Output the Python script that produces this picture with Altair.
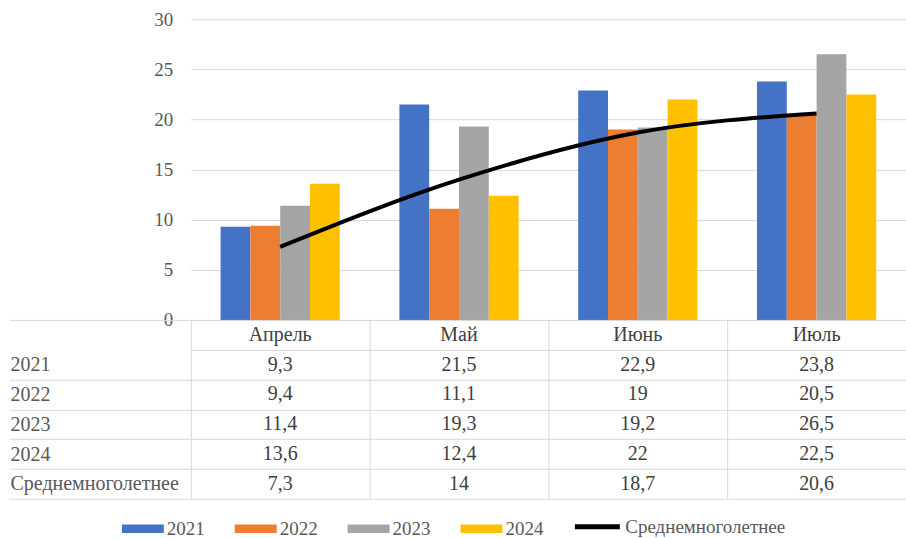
import altair as alt
import pandas as pd

# Monthly values by year, plus the long-term mean
months = ["Апрель", "Май", "Июнь", "Июль"]
series_names = ["2021", "2022", "2023", "2024", "Среднемноголетнее"]
v2021 = [9.3, 21.5, 22.9, 23.8]
v2022 = [9.4, 11.1, 19, 20.5]
v2023 = [11.4, 19.3, 19.2, 26.5]
v2024 = [13.6, 12.4, 22, 22.5]
mean_years = [7.3, 14, 18.7, 20.6]
y_ticks = [0, 5, 10, 15, 20, 25, 30]

year_colors = ["#4472C4", "#ED7D31", "#A5A5A5", "#FFC000"]
FONT = "Liberation Serif, Times New Roman, DejaVu Serif, Liberation Sans, serif"
TEXT = "#595959"
CELL = "#404040"
GRID = "#d9d9d9"
FS = 19
FS_TABLE = 20

YEARS = series_names[:4]
MEAN = series_names[-1]
HEADER = "Месяц"  # key of the header row of the data table (label hidden)

series_values = dict(zip(series_names, [v2021, v2022, v2023, v2024, mean_years]))
long = pd.DataFrame(
    [{"month": m, "series": s, "value": vals[i]}
     for s, vals in series_values.items() for i, m in enumerate(months)]
)
bars_df = long[long.series != MEAN]
line_df = long[long.series == MEAN]


def fmt(v):
    return ("%g" % v).replace(".", ",")


table_rows = [{"row": HEADER, "month": m, "text": m} for m in months]
table_rows += [{"row": r.series, "month": r.month, "text": fmt(r.value)} for r in long.itertuples()]
table_df = pd.DataFrame(table_rows)
row_order = [HEADER] + series_names

x_top = alt.X("month:N", sort=months,
              scale=alt.Scale(paddingInner=1 / 3, paddingOuter=1 / 6), axis=None)

legend_style = dict(title=None, orient="none", direction="horizontal", labelLimit=400,
                    labelFont=FONT, labelFontSize=FS, labelColor=TEXT, labelOffset=3)

bars = alt.Chart(bars_df).mark_bar().encode(
    x=x_top,
    xOffset=alt.XOffset("series:N", sort=YEARS),
    y=alt.Y("value:Q", scale=alt.Scale(domain=[0, 30], nice=False),
            axis=alt.Axis(values=y_ticks, title=None, domain=False, ticks=False,
                          grid=True, gridColor=GRID, labelPadding=18,
                          labelFont=FONT, labelFontSize=FS, labelColor=TEXT)),
    color=alt.Color(
        "series:N", scale=alt.Scale(domain=YEARS, range=year_colors),
        legend=alt.Legend(legendX=-69, legendY=489, columns=4, columnPadding=30,
                          symbolType="M-1,-0.2H1V0.2H-1Z", symbolSize=1764,
                          symbolStrokeWidth=0, **legend_style),
    ),
)

line = alt.Chart(line_df).mark_line(strokeWidth=4, interpolate="monotone").encode(
    x=x_top,
    y=alt.Y("value:Q"),
    stroke=alt.Stroke(
        "series:N", scale=alt.Scale(domain=[MEAN], range=["#000000"]),
        legend=alt.Legend(legendX=382, legendY=483, symbolType="stroke",
                          symbolSize=2025, symbolStrokeWidth=5, **legend_style),
    ),
)

top = alt.layer(bars, line).resolve_legend(color="independent", stroke="independent").properties(width=716, height=301)

x_tab = alt.X("month:N", sort=months,
              scale=alt.Scale(paddingInner=0, paddingOuter=0),
              axis=alt.Axis(title=None, labels=False, ticks=False, domain=False,
                            grid=True, gridColor=GRID, tickBand="extent"))
y_tab = alt.Y("row:N", sort=row_order,
              scale=alt.Scale(paddingInner=0, paddingOuter=0),
              axis=alt.Axis(title=None, domain=False, grid=True, gridColor=GRID,
                            tickBand="extent", ticks=True, tickSize=182,
                            tickColor={"condition": {"test": f"datum.value === '{HEADER}'",
                                                     "value": "transparent"},
                                       "value": GRID},
                            labelAlign="left", labelPadding=-1,
                            labelExpr=f"datum.value === '{HEADER}' ? '' : datum.value",
                            labelFont=FONT, labelFontSize=FS_TABLE, labelColor=TEXT))

table = alt.Chart(table_df).mark_text(font=FONT, fontSize=FS_TABLE, color=CELL).encode(
    x=x_tab, y=y_tab, text="text:N"
).properties(width=716, height=179)

chart = (
    alt.vconcat(top, table, spacing=0, bounds="flush")
    .configure_view(stroke=None)
    .properties(padding={"left": 8, "top": 10, "right": 0, "bottom": 0},
                background="white")
)

chart.save("out.html", embed_options={"renderer": "svg", "actions": False})
